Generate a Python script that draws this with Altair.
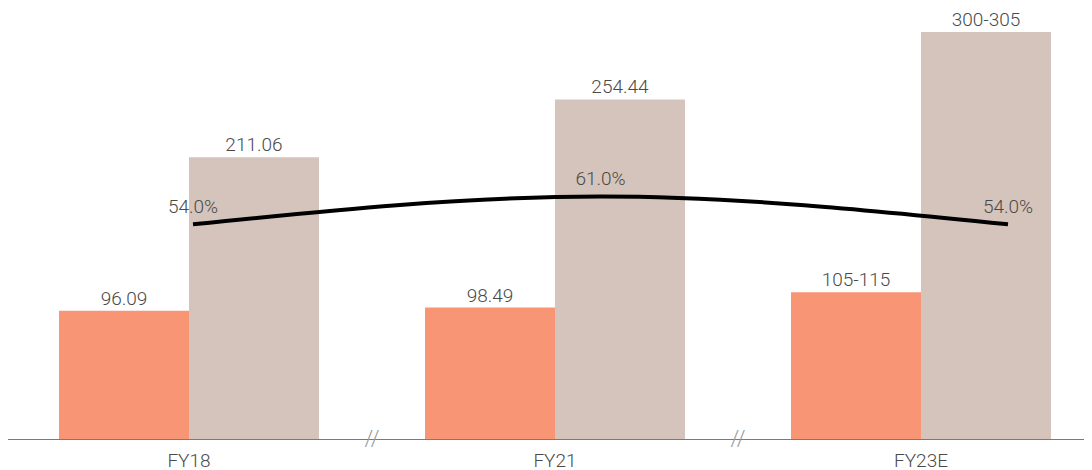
import altair as alt
import pandas as pd

cats = ["FY18", "FY21", "FY23E"]
series = ["Series 1", "Series 2"]
s1_vals = [96.09, 98.49, 110]
s2_vals = [211.06, 254.44, 305]
s1_labels = ["96.09", "98.49", "105-115"]
s2_labels = ["211.06", "254.44", "300-305"]
margin_vals = [54.0, 61.0, 54.0]
margin_labels = ["54.0%", "61.0%", "54.0%"]
break_after = ["FY18", "FY21"]

FONT = "Roboto"
TXT = "#4a4a4a"

bars_df = pd.DataFrame({
    "cat": cats * 2,
    "series": [series[0]] * 3 + [series[1]] * 3,
    "value": s1_vals + s2_vals,
    "label": s1_labels + s2_labels,
})
line_df = pd.DataFrame({"cat": cats, "pct": margin_vals, "label": margin_labels})
brk_df = pd.DataFrame({"cat": break_after, "mark": ["//"] * len(break_after)})

xs = alt.Scale(domain=cats, range=[-2, 1096], paddingInner=0, paddingOuter=0)
ys = alt.Scale(domain=[0, 319.9], nice=False, zero=True)
xo = alt.XOffset("series:N", scale=alt.Scale(domain=series, paddingInner=0, paddingOuter=0.4077))
col = alt.Color("series:N", scale=alt.Scale(domain=series, range=["#F79574", "#D5C4BB"]), legend=None)

xaxis = alt.Axis(labelAngle=0, ticks=False, tickSize=0, domainColor="#7a7a7a",
                 domainWidth=1, labelFontSize=19, labelFont=FONT, labelFontWeight=300,
                 labelColor=TXT, labelPadding=12, grid=False)
xenc = alt.X("cat:N", scale=xs, sort=cats, title=None, axis=xaxis)
yenc = alt.Y("value:Q", scale=ys, axis=None)

base = alt.Chart(bars_df)
bars = base.mark_bar().encode(x=xenc, xOffset=xo, y=yenc, color=col)
bar_labels = base.mark_text(baseline="alphabetic", dy=-6, fontSize=19, font=FONT,
                            fontWeight=300, color=TXT).encode(
    x=xenc, xOffset=xo, y=yenc, text="label:N")
breaks = alt.Chart(brk_df).mark_text(fontSize=22, font=FONT, fontWeight=300, color="#9a9a9a",
                                     baseline="middle").encode(
    x=alt.X("cat:N", scale=xs, sort=cats, bandPosition=1, title=None, axis=xaxis),
    y=alt.Y("v:Q", scale=ys, axis=None),
    text="mark:N").transform_calculate(v="0")

left = alt.layer(bars, bar_labels, breaks)

lx = alt.X("cat:N", scale=alt.Scale(type="point", domain=cats, range=[185, 1000], padding=0),
           axis=None)
ly = alt.Y("pct:Q", scale=alt.Scale(domain=[0, 107.4], nice=False, zero=True), axis=None)
lbase = alt.Chart(line_df)
line = lbase.mark_line(color="black", strokeWidth=4, interpolate="monotone").encode(x=lx, y=ly)
line_labels = lbase.mark_text(baseline="alphabetic", dy=-11, fontSize=19, font=FONT,
                              fontWeight=300, color=TXT).encode(x=lx, y=ly, text="label:N")
right = alt.layer(line, line_labels)

chart = alt.layer(left, right).resolve_scale(x="independent", y="independent").properties(
    width=1076, height=427,
    autosize=alt.AutoSizeParams(type="none"),
    padding={"left": 0, "top": 4, "right": 0, "bottom": 31},
    background="white",
).configure_view(stroke=None)

chart.save("out.html", embed_options={"renderer": "svg", "actions": False})
